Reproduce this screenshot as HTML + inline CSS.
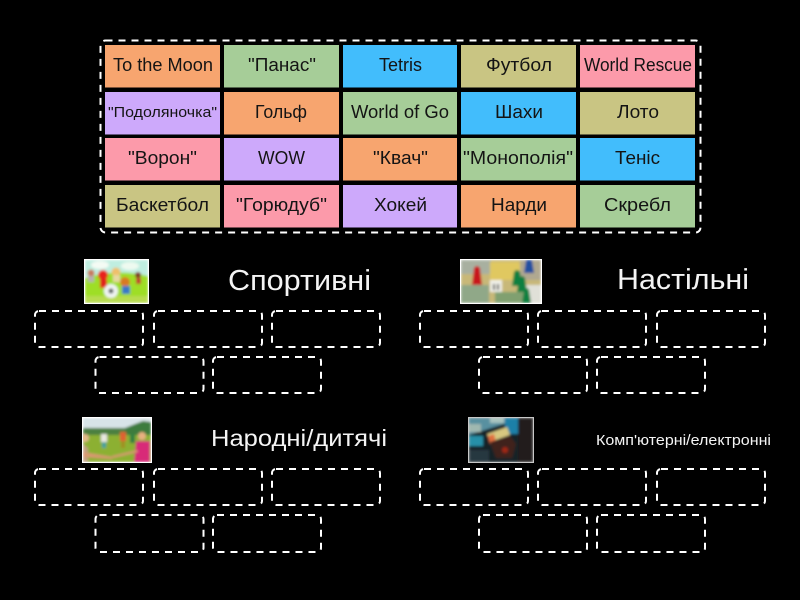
<!DOCTYPE html>
<html lang="uk">
<head>
<meta charset="utf-8">
<title>Ігри</title>
<style>
html,body{margin:0;padding:0;background:#000;width:800px;height:600px;overflow:hidden}
svg{display:block}
text{font-family:"Liberation Sans","DejaVu Sans",sans-serif}
.t{font-size:18px;fill:#141414}
.h{fill:#f4f4f4}
.d{fill:none;stroke:#fff;stroke-width:2;stroke-dasharray:7 6}
</style>
</head>
<body>
<svg width="800" height="600" viewBox="0 0 800 600" xmlns="http://www.w3.org/2000/svg">
<defs>
<filter id="b" x="-10%" y="-10%" width="120%" height="120%"><feGaussianBlur stdDeviation="1.200"/></filter>
<clipPath id="c1"><rect x="85" y="260" width="63" height="43"/></clipPath>
<clipPath id="c2"><rect x="461" y="260" width="80" height="43"/></clipPath>
<clipPath id="c3"><rect x="83" y="418" width="68" height="44"/></clipPath>
<clipPath id="c4"><rect x="469" y="418" width="64" height="44"/></clipPath>
</defs>
<rect width="800" height="600" fill="#000"/>

<rect class="d" x="100.500" y="40.500" width="600" height="192" rx="5"/>

<!-- Row 1 -->
<rect x="105" y="45" width="115" height="42.500" fill="#f7a56f"/>
<rect x="224" y="45" width="115" height="42.500" fill="#a6cd98"/>
<rect x="343" y="45" width="114" height="42.500" fill="#42bdfc"/>
<rect x="461" y="45" width="115" height="42.500" fill="#c9c583"/>
<rect x="580" y="45" width="115" height="42.500" fill="#fc9aaa"/>
<!-- Row 2 -->
<rect x="105" y="92" width="115" height="42.500" fill="#cda9fb"/>
<rect x="224" y="92" width="115" height="42.500" fill="#f7a56f"/>
<rect x="343" y="92" width="114" height="42.500" fill="#a6cd98"/>
<rect x="461" y="92" width="115" height="42.500" fill="#42bdfc"/>
<rect x="580" y="92" width="115" height="42.500" fill="#c9c583"/>
<!-- Row 3 -->
<rect x="105" y="138" width="115" height="42.500" fill="#fc9aaa"/>
<rect x="224" y="138" width="115" height="42.500" fill="#cda9fb"/>
<rect x="343" y="138" width="114" height="42.500" fill="#f7a56f"/>
<rect x="461" y="138" width="115" height="42.500" fill="#a6cd98"/>
<rect x="580" y="138" width="115" height="42.500" fill="#42bdfc"/>
<!-- Row 4 -->
<rect x="105" y="185" width="115" height="42.500" fill="#c9c583"/>
<rect x="224" y="185" width="115" height="42.500" fill="#fc9aaa"/>
<rect x="343" y="185" width="114" height="42.500" fill="#cda9fb"/>
<rect x="461" y="185" width="115" height="42.500" fill="#f7a56f"/>
<rect x="580" y="185" width="115" height="42.500" fill="#a6cd98"/>

<text class="t" x="113" y="71" textLength="100" lengthAdjust="spacingAndGlyphs">To the Moon</text>
<text class="t" x="248" y="71" textLength="68" lengthAdjust="spacingAndGlyphs">"Панас"</text>
<text class="t" x="379" y="71" textLength="43" lengthAdjust="spacingAndGlyphs">Tetris</text>
<text class="t" x="486" y="71" textLength="66" lengthAdjust="spacingAndGlyphs">Футбол</text>
<text class="t" x="584" y="71" textLength="108" lengthAdjust="spacingAndGlyphs">World Rescue</text>

<text class="t" x="108" y="117" style="font-size:15px" textLength="109" lengthAdjust="spacingAndGlyphs">"Подоляночка"</text>
<text class="t" x="255" y="118" textLength="52" lengthAdjust="spacingAndGlyphs">Гольф</text>
<text class="t" x="351" y="118" textLength="98" lengthAdjust="spacingAndGlyphs">World of Go</text>
<text class="t" x="495" y="118" textLength="48" lengthAdjust="spacingAndGlyphs">Шахи</text>
<text class="t" x="617" y="118" textLength="42" lengthAdjust="spacingAndGlyphs">Лото</text>

<text class="t" x="128" y="164" textLength="69" lengthAdjust="spacingAndGlyphs">"Ворон"</text>
<text class="t" x="258" y="164" textLength="47" lengthAdjust="spacingAndGlyphs">WOW</text>
<text class="t" x="373" y="164" textLength="55" lengthAdjust="spacingAndGlyphs">"Квач"</text>
<text class="t" x="463" y="164" textLength="110" lengthAdjust="spacingAndGlyphs">"Монополія"</text>
<text class="t" x="615" y="164" textLength="45" lengthAdjust="spacingAndGlyphs">Теніс</text>

<text class="t" x="116" y="211" textLength="93" lengthAdjust="spacingAndGlyphs">Баскетбол</text>
<text class="t" x="236" y="211" textLength="91" lengthAdjust="spacingAndGlyphs">"Горюдуб"</text>
<text class="t" x="374" y="211" textLength="53" lengthAdjust="spacingAndGlyphs">Хокей</text>
<text class="t" x="491" y="211" textLength="56" lengthAdjust="spacingAndGlyphs">Нарди</text>
<text class="t" x="604" y="211" textLength="67" lengthAdjust="spacingAndGlyphs">Скребл</text>

<!-- Image 1 -->
<rect x="84" y="259" width="65" height="45" fill="#fff"/>
<g clip-path="url(#c1)"><g filter="url(#b)">
<rect x="85" y="260" width="63" height="17" fill="#bfeee0"/>
<ellipse cx="100" cy="265" rx="9" ry="4" fill="#f4fbf4"/>
<ellipse cx="130" cy="266" rx="9" ry="4" fill="#eefaf0"/>
<path d="M85 278Q115 268 148 276V303H85Z" fill="#9ede28"/>
<rect x="85" y="296" width="63" height="7" fill="#b8dc50"/>
<circle cx="91" cy="273" r="3.500" fill="#c8785c"/>
<rect x="88" y="276" width="6" height="6" fill="#b8b0b0"/>
<circle cx="103" cy="275" r="5" fill="#e8201c"/>
<rect x="100" y="279" width="7" height="9" fill="#e0201c"/>
<circle cx="116" cy="272" r="4.500" fill="#efc06a"/>
<rect x="113" y="275" width="7" height="7" fill="#e8d8a0"/>
<circle cx="125" cy="282" r="5" fill="#d87a20"/>
<rect x="122" y="286" width="8" height="8" fill="#3878c8"/>
<circle cx="138" cy="275" r="3" fill="#803020"/>
<rect x="136" y="278" width="5" height="6" fill="#c04030"/>
<circle cx="111" cy="291" r="7" fill="#f0f4f4"/>
<circle cx="111" cy="291" r="2.500" fill="#505858"/>
</g></g>

<!-- Image 2 -->
<rect x="460" y="259" width="82" height="45" fill="#fff"/>
<g clip-path="url(#c2)"><g filter="url(#b)">
<rect x="461" y="260" width="80" height="43" fill="#c8b878"/>
<rect x="461" y="260" width="30" height="14" fill="#a8b0a0"/>
<rect x="490" y="262" width="30" height="18" fill="#e0c860"/>
<rect x="520" y="260" width="21" height="20" fill="#b0a890"/>
<rect x="461" y="285" width="28" height="18" fill="#90a888"/>
<rect x="495" y="292" width="30" height="11" fill="#80a070"/>
<rect x="525" y="285" width="16" height="18" fill="#e0e0d8"/>
<path d="M474 268q3-4 6 0l2 17h-10z" fill="#c8141c"/>
<path d="M526 260h6l2 13h-10z" fill="#2050a0"/>
<path d="M514 272q3-4 6 0l2 14h-10z" fill="#108040"/>
<path d="M519 278q3-4 6 0l2 14h-10z" fill="#108040"/>
<path d="M524 290q3-4 5 0l2 13h-9z" fill="#108040"/>
<rect x="490" y="280" width="12" height="12" fill="#f0f0e8"/>
<rect x="493" y="284" width="2" height="6" fill="#505050"/>
<rect x="497" y="284" width="2" height="6" fill="#505050"/>
</g></g>

<!-- Image 3 -->
<rect x="82" y="417" width="70" height="46" fill="#fff"/>
<g clip-path="url(#c3)"><g filter="url(#b)">
<rect x="83" y="418" width="68" height="14" fill="#d8e4e8"/>
<rect x="83" y="428" width="68" height="7" fill="#4c8040"/>
<path d="M125 435V428l10-4 8-3 8 1V435Z" fill="#3c7c3c"/>
<rect x="83" y="435" width="68" height="27" fill="#8cb030"/>
<rect x="101" y="434" width="6" height="8" fill="#e8e8e0"/>
<rect x="102" y="442" width="4" height="6" fill="#40a0a0"/>
<rect x="120" y="432" width="6" height="9" fill="#e06030"/>
<rect x="121" y="441" width="4" height="7" fill="#a09020"/>
<rect x="130" y="434" width="5" height="9" fill="#308040"/>
<circle cx="142" cy="436" r="4" fill="#e8b080"/>
<path d="M136 441h14v21h-16z" fill="#d82c78"/>
<circle cx="85" cy="438" r="4" fill="#e0b888"/>
<path d="M83 444l5 4v14h-5z" fill="#c0a080"/>
<path d="M83 452l30 5-1 2-29-2z" fill="#d89870"/>
<path d="M112 456l25-6 1 2-25 6z" fill="#d89870"/>
</g></g>

<!-- Image 4 -->
<rect x="468" y="417" width="66" height="46" fill="#c8c8c8"/>
<g clip-path="url(#c4)"><g filter="url(#b)">
<rect x="469" y="418" width="64" height="44" fill="#142028"/>
<path d="M469 418h42l-4 5-38 12z" fill="#5890a0"/>
<rect x="490" y="418" width="14" height="5" fill="#a8c4c0"/>
<rect x="469" y="424" width="12" height="8" fill="#a0b8b0"/>
<rect x="505" y="418" width="13" height="16" fill="#1c80a8"/>
<rect x="518" y="418" width="15" height="44" fill="#241c1c"/>
<rect x="469" y="436" width="14" height="10" fill="#2890a8"/>
<path d="M487 434l20-7 3 8-20 7z" fill="#d8c880"/>
<path d="M488 436l6-2 2 8-6 2z" fill="#e07040"/>
<path d="M490 442l20-6 6 8-4 14h-16z" fill="#40201c"/>
<circle cx="505" cy="450" r="3" fill="#a02818"/>
<rect x="469" y="450" width="20" height="12" fill="#283840"/>
</g></g>

<!-- Headings -->
<text class="h" x="228" y="290" style="font-size:29px" textLength="143" lengthAdjust="spacingAndGlyphs">Спортивні</text>
<text class="h" x="617" y="289" style="font-size:29px" textLength="132" lengthAdjust="spacingAndGlyphs">Настільні</text>
<text class="h" x="211" y="446" style="font-size:23px" textLength="176" lengthAdjust="spacingAndGlyphs">Народні/дитячі</text>
<text class="h" x="596" y="445" style="font-size:15px" textLength="175" lengthAdjust="spacingAndGlyphs">Комп'ютерні/електронні</text>

<!-- Group 1 -->
<rect class="d" x="35" y="311" width="108" height="36" rx="4"/>
<rect class="d" x="154" y="311" width="108" height="36" rx="4"/>
<rect class="d" x="272" y="311" width="108" height="36" rx="4"/>
<rect class="d" x="95.500" y="357" width="108" height="36" rx="4"/>
<rect class="d" x="213" y="357" width="108" height="36" rx="4"/>
<!-- Group 2 -->
<rect class="d" x="420" y="311" width="108" height="36" rx="4"/>
<rect class="d" x="538" y="311" width="108" height="36" rx="4"/>
<rect class="d" x="657" y="311" width="108" height="36" rx="4"/>
<rect class="d" x="479" y="357" width="108" height="36" rx="4"/>
<rect class="d" x="597" y="357" width="108" height="36" rx="4"/>
<!-- Group 3 -->
<rect class="d" x="35" y="469" width="108" height="36" rx="4"/>
<rect class="d" x="154" y="469" width="108" height="36" rx="4"/>
<rect class="d" x="272" y="469" width="108" height="36" rx="4"/>
<rect class="d" x="95.500" y="515" width="108" height="37" rx="4"/>
<rect class="d" x="213" y="515" width="108" height="37" rx="4"/>
<!-- Group 4 -->
<rect class="d" x="420" y="469" width="108" height="36" rx="4"/>
<rect class="d" x="538" y="469" width="108" height="36" rx="4"/>
<rect class="d" x="657" y="469" width="108" height="36" rx="4"/>
<rect class="d" x="479" y="515" width="108" height="37" rx="4"/>
<rect class="d" x="597" y="515" width="108" height="37" rx="4"/>
</svg>
</body>
</html>
